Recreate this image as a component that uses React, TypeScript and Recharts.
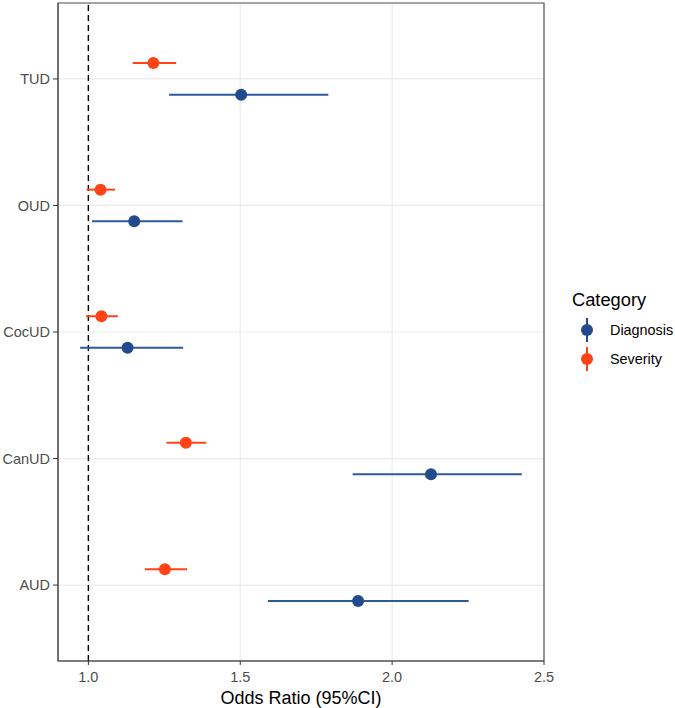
import {
  ErrorBar,
  ReferenceArea,
  ReferenceLine,
  Scatter,
  ScatterChart,
  XAxis,
  YAxis,
  CartesianGrid,
} from "recharts"

// bottom to top, as ggplot lays out a discrete axis
const disorders = ["AUD", "CanUD", "CocUD", "OUD", "TUD"]

const diagnosisOR = [1.888, 2.128, 1.129, 1.151, 1.503]
const diagnosisLow = [1.591, 1.87, 0.973, 1.012, 1.266]
const diagnosisHigh = [2.252, 2.427, 1.312, 1.31, 1.79]

const severityOR = [1.252, 1.321, 1.043, 1.04, 1.214]
const severityLow = [1.186, 1.257, 0.992, 0.994, 1.146]
const severityHigh = [1.325, 1.388, 1.097, 1.088, 1.289]

const xTicks = [1.0, 1.5, 2.0, 2.5]

const DIAG_COLOR = "#224A8C"
const SEV_COLOR = "#FF4317"
const DODGE = 0.125
const FONT = "Liberation Sans, Arial, sans-serif"

function buildRows(or: number[], lo: number[], hi: number[], shift: number) {
  return disorders.map((name, i) => ({
    name,
    x: or[i],
    y: i + 1 + shift,
    err: [or[i] - lo[i], hi[i] - or[i]],
  }))
}

const diagnosisRows = buildRows(diagnosisOR, diagnosisLow, diagnosisHigh, -DODGE)
const severityRows = buildRows(severityOR, severityLow, severityHigh, DODGE)

function CategoryLegend() {
  const items = [
    { label: "Diagnosis", color: DIAG_COLOR },
    { label: "Severity", color: SEV_COLOR },
  ]
  return (
    <div style={{ position: "absolute", left: 572, top: 288, fontFamily: FONT }}>
      <div style={{ fontSize: 18.3, color: "#000", lineHeight: "24px", height: 28 }}>Category</div>
      {items.map((it) => (
        <div key={it.label} style={{ display: "flex", alignItems: "center", height: 28.5, marginLeft: 3 }}>
          <svg width={24} height={26}>
            <line x1={12} x2={12} y1={1} y2={25} stroke={it.color} strokeWidth={2} />
            <circle cx={12} cy={13} r={6} fill={it.color} />
          </svg>
          <span style={{ fontSize: 14.4, color: "#000", marginLeft: 11 }}>{it.label}</span>
        </div>
      ))}
    </div>
  )
}

export default function App() {
  return (
    <div
      style={{
        position: "absolute",
        top: 0,
        left: 0,
        width: 675,
        height: 708,
        background: "#fff",
        fontFamily: FONT,
      }}
    >
      <ScatterChart width={675} height={708} margin={{ top: 3, right: 131, left: 0, bottom: 0 }}>
        <CartesianGrid stroke="#EBEBEB" strokeWidth={1.2} />
        <XAxis
          type="number"
          dataKey="x"
          domain={[0.9, 2.5]}
          ticks={xTicks}
          tickFormatter={(v: number) => v.toFixed(1)}
          allowDataOverflow
          height={47}
          tickSize={4}
          tickMargin={7}
          tick={{ fill: "#4D4D4D", fontSize: 14.5 }}
          axisLine={{ stroke: "#555", strokeWidth: 1.2 }}
          tickLine={{ stroke: "#333" }}
          label={{ value: "Odds Ratio (95%CI)", position: "insideBottom", offset: 4, fill: "#000", fontSize: 18 }}
        />
        <YAxis
          type="number"
          dataKey="y"
          domain={[0.4, 5.6]}
          ticks={[1, 2, 3, 4, 5]}
          tickFormatter={(v: number) => disorders[v - 1]}
          allowDataOverflow
          width={58}
          tickSize={5}
          tickMargin={3}
          tick={{ fill: "#4D4D4D", fontSize: 14.5 }}
          axisLine={{ stroke: "#555", strokeWidth: 1.2 }}
          tickLine={{ stroke: "#333" }}
        />
        <ReferenceArea x1={0.9} x2={2.5} y1={0.4} y2={5.6} fill="none" stroke="#555" strokeWidth={1.2} />
        <ReferenceLine x={1} stroke="#000" strokeDasharray="6 4" strokeWidth={1.4} />
        <Scatter name="Diagnosis" data={diagnosisRows} fill={DIAG_COLOR} isAnimationActive={false} shape={(p: any) => <circle cx={p.cx} cy={p.cy} r={6} fill={DIAG_COLOR} />}>
          <ErrorBar dataKey="err" direction="x" width={0} stroke="#2D5A9A" strokeWidth={2} isAnimationActive={false} />
        </Scatter>
        <Scatter name="Severity" data={severityRows} fill={SEV_COLOR} isAnimationActive={false} shape={(p: any) => <circle cx={p.cx} cy={p.cy} r={6} fill={SEV_COLOR} />}>
          <ErrorBar dataKey="err" direction="x" width={0} stroke={SEV_COLOR} strokeWidth={2} isAnimationActive={false} />
        </Scatter>
      </ScatterChart>
      <CategoryLegend />
    </div>
  )
}
